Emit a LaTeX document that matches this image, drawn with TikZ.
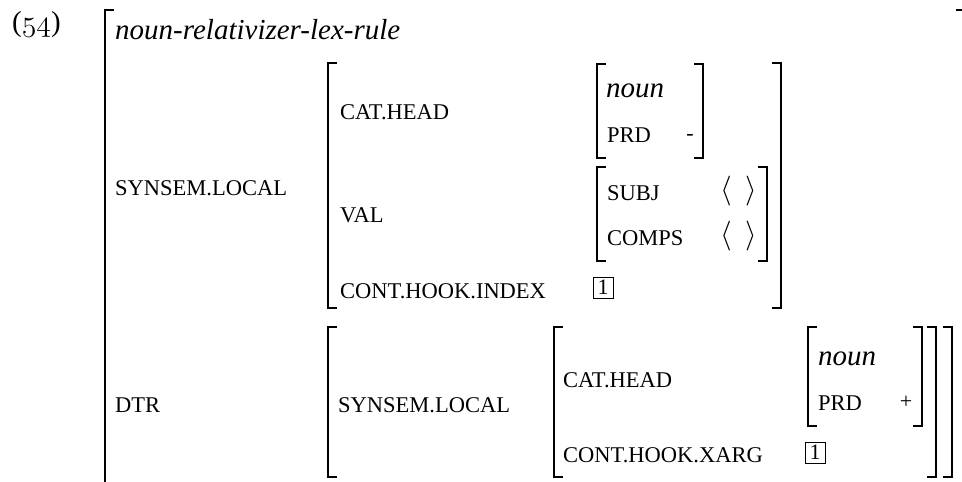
\documentclass[tikz,border=0pt]{standalone}
\usepackage{graphicx}
\usepackage{fontspec}
\IfFontExistsTF{LiberationSerif-Regular.ttf}{%
  \setmainfont{LiberationSerif}[Extension=.ttf, UprightFont=*-Regular, ItalicFont=*-Italic, BoldFont=*-Bold, BoldItalicFont=*-BoldItalic]}{%
  \setmainfont{Liberation Serif}}
\newcommand\lbrk[3]{\draw[brk] (#1+9,#2) -- (#1,#2) -- (#1,#3) -- (#1+9,#3);}
\newcommand\rbrk[3]{\draw[brk] (#1-9,#2) -- (#1,#2) -- (#1,#3) -- (#1-9,#3);}
\tikzset{
  brk/.style={line width=1.5pt, line cap=butt, line join=miter},
  key/.style={anchor=base west, inner sep=0pt, font=\rmfamily\fontsize{22.5}{27}\selectfont},
  typ/.style={anchor=base west, inner sep=0pt, font=\rmfamily\fontsize{29}{34}\selectfont\itshape},
  tag/.style={draw, line width=0.7pt, minimum width=20pt, minimum height=21pt, inner sep=0pt, font=\rmfamily\fontsize{22}{26}\selectfont},
  ang/.style={inner sep=0pt, font=\fontsize{24.88}{30}\selectfont},
  sym/.style={anchor=base, inner sep=0pt, font=\rmfamily\fontsize{22}{26}\selectfont},
}
\begin{document}
\begin{tikzpicture}[x=1pt, y=-1pt]
\useasboundingbox (0,0) rectangle (962,482);
\clip (0,0) rectangle (962,482);
% example number
\node[anchor=base west, inner sep=0pt, font=\rmfamily\fontsize{29}{34}\selectfont] (num) at (12,31) {(\scalebox{1.2}{\fontsize{24.88}{30}\selectfont$\mathnormal{54}$})};
% outer brackets
\lbrk{105}{10}{520}
\rbrk{965}{10}{520}
\node[typ] (type) at (115,39) {noun-relativizer-lex-rule};
% SYNSEM.LOCAL
\node[key] (sl) at (115,195) {SYNSEM.LOCAL};
\lbrk{328}{63}{308}
\rbrk{781}{63}{308}
\node[key] (cathead) at (340,119) {CAT.HEAD};
\node[key] (val) at (340,222) {VAL};
\node[key] (cont) at (340,298) {CONT.HOOK.INDEX};
% head value
\lbrk{597}{64}{158}
\rbrk{703}{64}{158}
\node[typ] (noun1) at (606,97) {noun};
\node[key] (prd1) at (607,142) {PRD};
\node[sym] (minus) at (690,140) {-};
% val value
\lbrk{597}{167}{261}
\rbrk{767}{167}{261}
\node[key] (subj) at (607,200) {SUBJ};
\node[key] (comps) at (607,245) {COMPS};
\node[ang] (sl1) at (726,191.5) {\scalebox{1.2}{$\langle$}};
\node[ang] (sr1) at (751,191.5) {\scalebox{1.2}{$\rangle$}};
\node[ang] (cl1) at (726,236) {\scalebox{1.2}{$\langle$}};
\node[ang] (cr1) at (751,236) {\scalebox{1.2}{$\rangle$}};
\node[tag] (tag1) at (603,287.5) {1};
% DTR
\node[key] (dtr) at (115,412) {DTR};
\lbrk{328}{327}{477}
\rbrk{952}{327}{477}
\node[key] (sl2) at (338,412) {SYNSEM.LOCAL};
\lbrk{554}{327}{477}
\rbrk{936}{327}{477}
\node[key] (cathead2) at (563,387) {CAT.HEAD};
\node[key] (xarg) at (563,462) {CONT.HOOK.XARG};
\lbrk{808}{327}{426}
\rbrk{922}{327}{426}
\node[typ] (noun2) at (818,365) {noun};
\node[key] (prd2) at (818,410) {PRD};
\node[sym] (plus) at (906,408) {+};
\node[tag] (tag2) at (815,452.5) {1};
\end{tikzpicture}
\end{document}
